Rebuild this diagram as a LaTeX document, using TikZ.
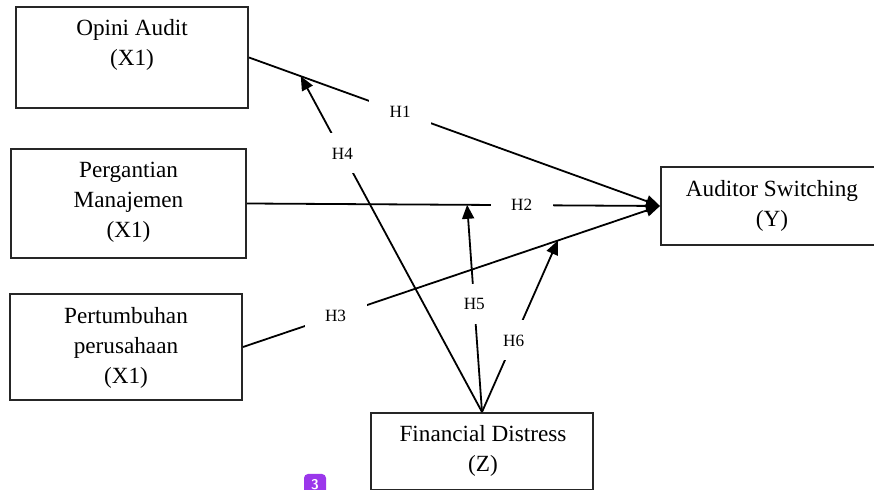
\documentclass[tikz,border=0pt]{standalone}
\usepackage{fontspec}
\setmainfont{Liberation Serif}
\usetikzlibrary{arrows.meta,calc}
\definecolor{badgepurple}{RGB}{155,55,235}
\begin{document}
\begin{tikzpicture}[x=0.5pt,y=-0.5pt,
 box/.style={draw=black!85, line width=1pt, rectangle, inner sep=0pt},
 txt/.style={align=center, font=\fontsize{11.6}{15}\selectfont, inner sep=0pt},
 arr/.style={line width=0.9pt, -{Triangle[length=7pt,width=6pt]}},
 lbl/.style={fill=white, font=\fontsize{8.6}{10}\selectfont, minimum width=31pt, minimum height=20pt, inner sep=0pt}]
\useasboundingbox (0,0) rectangle (874,490);
% boxes
\node[box, minimum width=116pt, minimum height=50.5pt] (oa) at (132,57.5) {};
\node[box, minimum width=117.5pt, minimum height=54.5pt] (pm) at (128.5,203.5) {};
\node[box, minimum width=116pt, minimum height=53pt] (pp) at (126,347) {};
\node[box, minimum width=109.5pt, minimum height=39pt] (as) at (770.5,206) {};
\node[box, minimum width=111pt, minimum height=38.5pt] (fd) at (482,451.5) {};
% texts
\node[txt] (oat) at (132,45) {Opini Audit\\(X1)};
\node[txt] (pmt) at (128.5,202) {Pergantian\\Manajemen\\(X1)};
\node[txt] (ppt) at (126,348) {Pertumbuhan\\perusahaan\\(X1)};
\node[txt] (ast) at (772,206) {Auditor Switching\\(Y)};
\node[txt] (fdt) at (483,451) {Financial Distress\\(Z)};
% direct effects
\draw[arr] (oa.east) -- node[lbl,pos=0.368]{H1} (as.west);
\draw[arr] (pm.east) -- node[lbl,pos=0.665]{H2} (as.west);
\draw[arr] (pp.east) -- node[lbl,pos=0.222]{H3} (as.west);
% moderation
\coordinate (t4) at ($(oa.east)!0.126!(as.west)$);
\coordinate (t5) at ($(pm.east)!0.533!(as.west)$);
\coordinate (t6) at ($(pp.east)!0.755!(as.west)$);
\draw[arr] (fd.north) -- node[lbl,pos=0.77]{H4} (t4);
\draw[arr] (fd.north) -- node[lbl,pos=0.417]{H6} (t6);
\draw[arr] (fd.north) -- node[lbl,pos=0.52]{H5} (t5);
% badge
\node[fill=badgepurple, rounded corners=2pt, minimum size=11pt, inner sep=0pt, text=white, font=\sffamily\bfseries\fontsize{7}{7}\selectfont] (badge) at (315,485) {3};
\end{tikzpicture}
\end{document}
